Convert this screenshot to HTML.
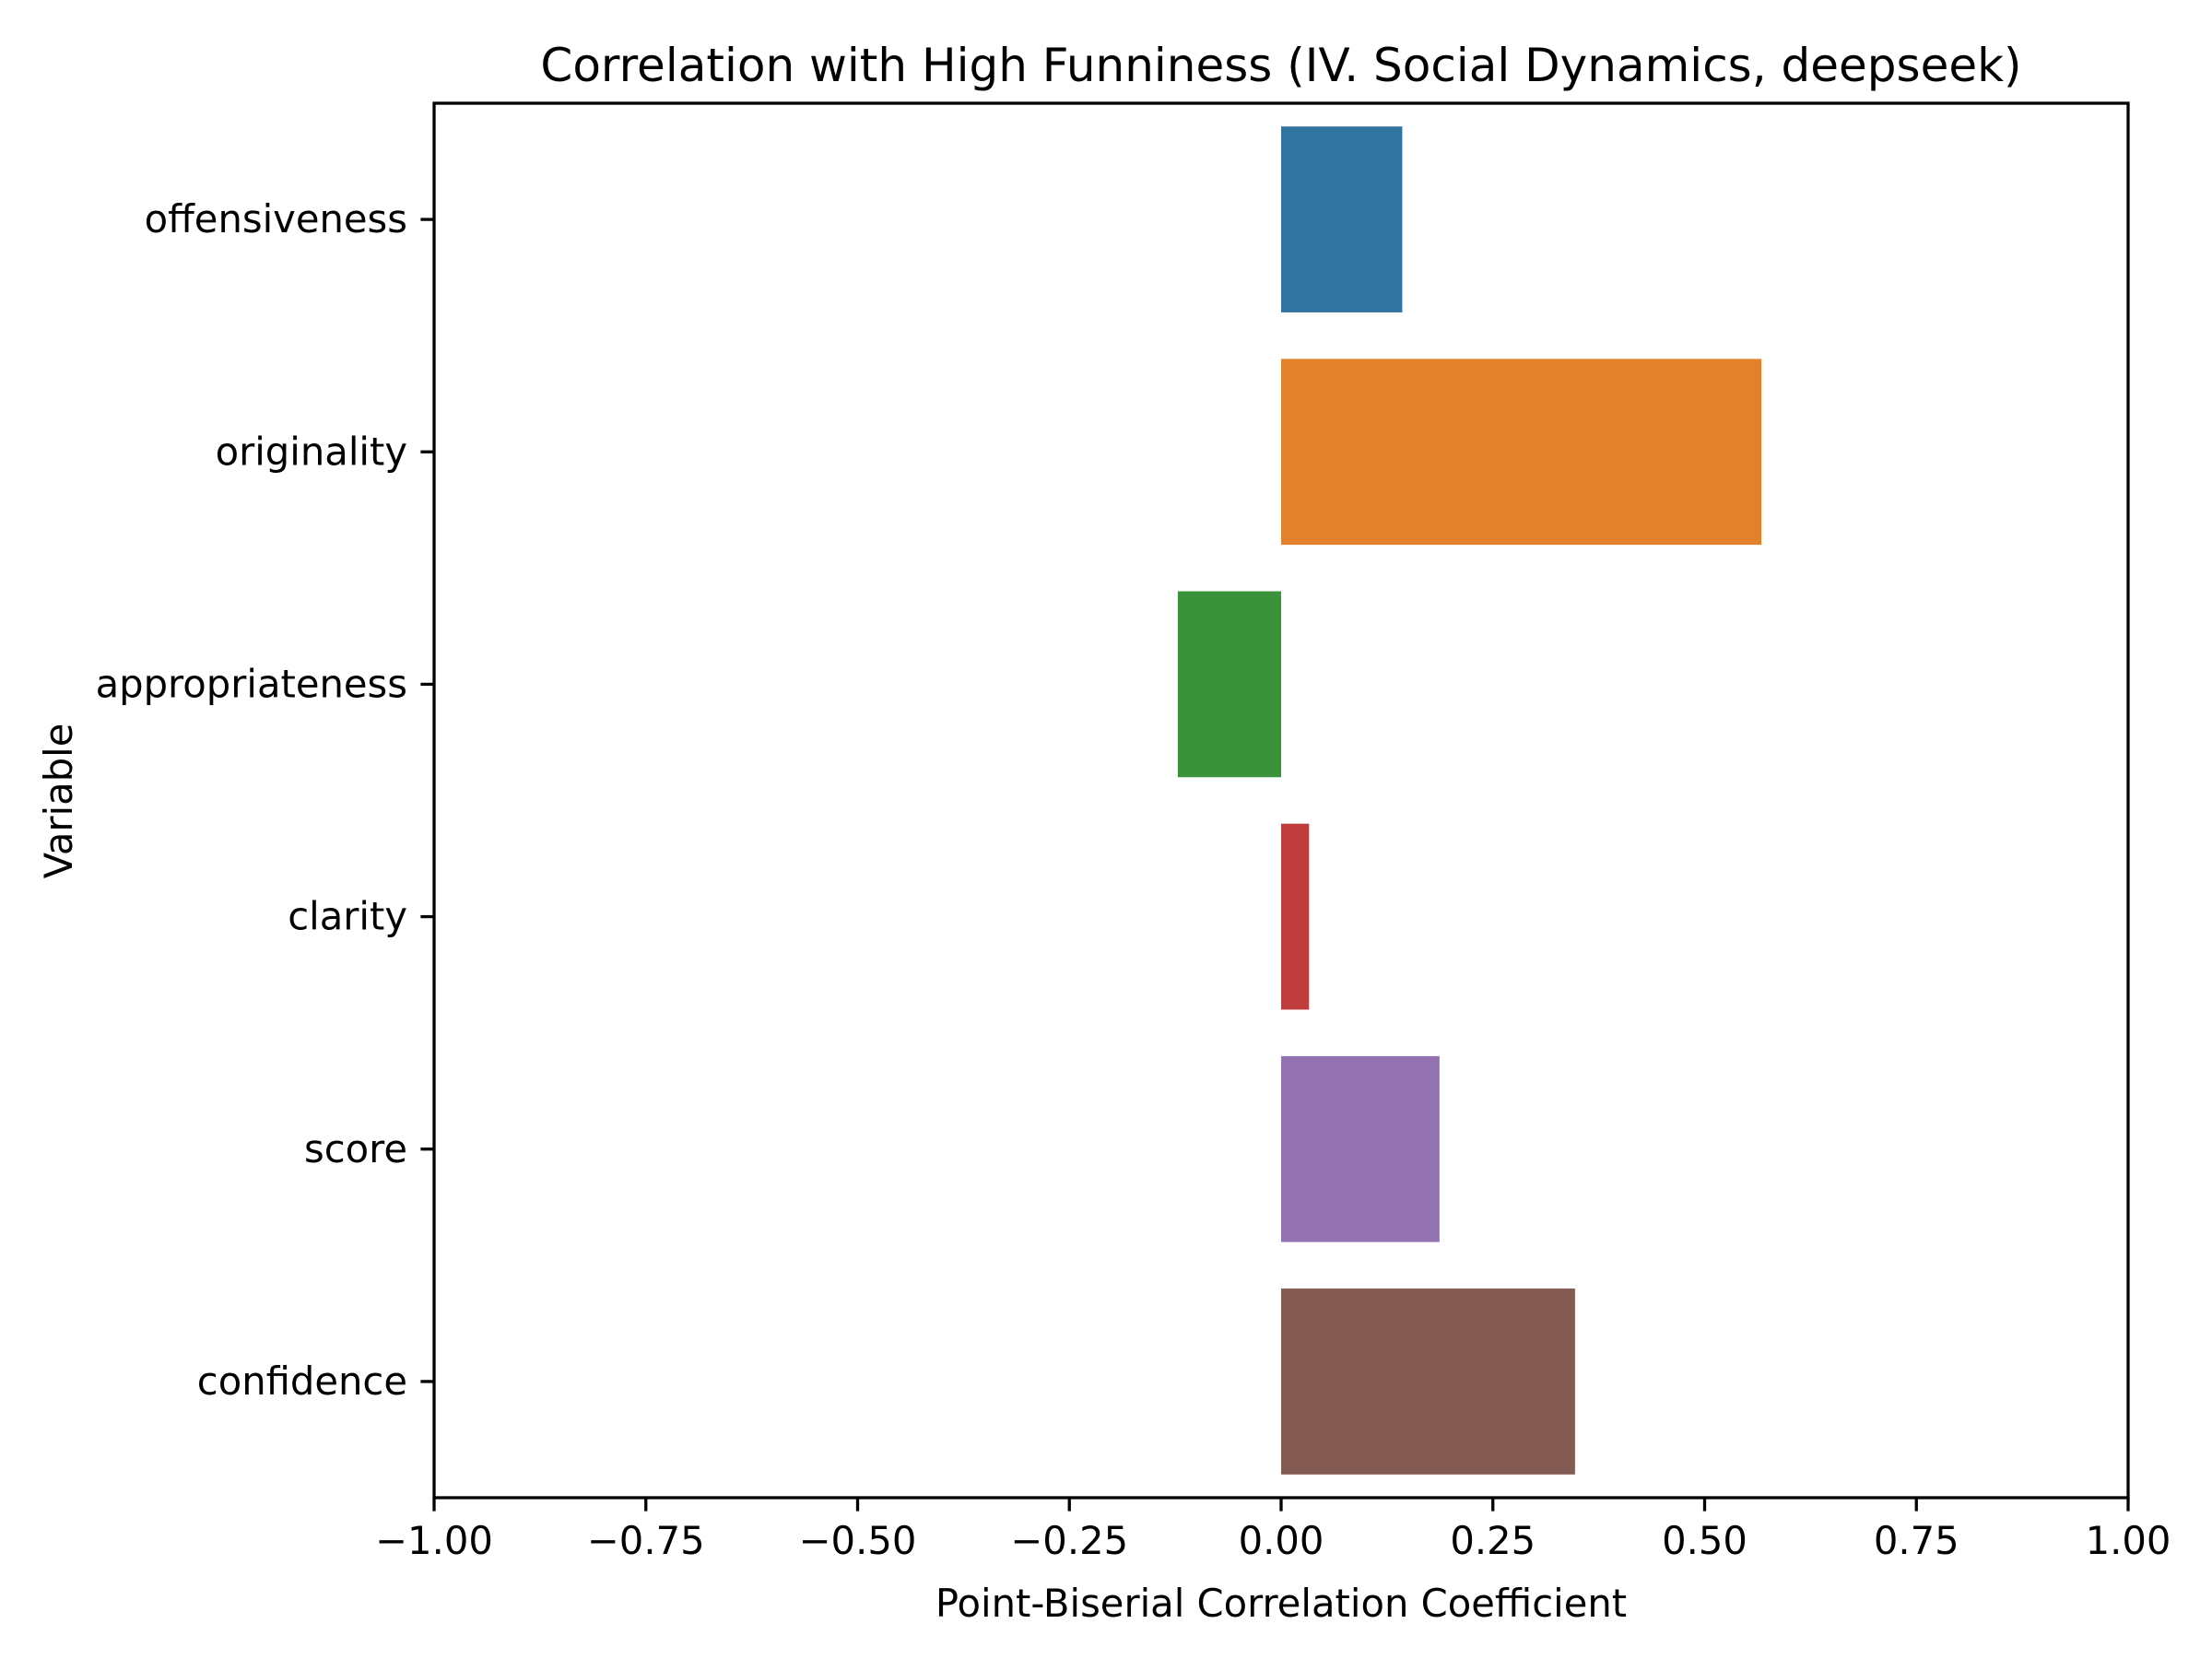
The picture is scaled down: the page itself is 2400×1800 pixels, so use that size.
<!DOCTYPE html>
<html><head><meta charset="utf-8"><style>
html,body{margin:0;padding:0;background:#fff;}
svg{display:block;font-family:"DejaVu Sans","Liberation Sans",sans-serif;}
</style></head><body>
<svg id="chart" width="2400" height="1800" viewBox="0 0 2400 1800" xmlns="http://www.w3.org/2000/svg">
<rect width="2400" height="1800" fill="#fff"/>
<g id="bars"></g>
<g id="axes"></g>
<text x="1390" y="88" font-size="50" text-anchor="middle">Correlation with High Funniness (IV. Social Dynamics, deepseek)</text>
<text x="1390" y="1754" font-size="41.7" text-anchor="middle">Point-Biserial Correlation Coefficient</text>
<text x="0" y="0" font-size="41.7" text-anchor="middle" transform="translate(78,869) rotate(-90)">Variable</text>
</svg>
<script>
const categories = ["offensiveness","originality","appropriateness","clarity","score","confidence"];
const values = [0.143, 0.567, -0.122, 0.033, 0.187, 0.347];
const colors = ["#3274a1","#e1812c","#3a923a","#c03d3e","#9372b2","#845b53"];
const xTicks = [-1,-0.75,-0.5,-0.25,0,0.25,0.5,0.75,1];
const xTickLabels = ["\u22121.00","\u22120.75","\u22120.50","\u22120.25","0.00","0.25","0.50","0.75","1.00"];

const L=471, R=2309, T=112, B=1625;
const NS="http://www.w3.org/2000/svg";
const xS = v => L + (v+1)/2*(R-L);
const band = (B-T)/categories.length;
const yC = i => T + band*(i+0.5);

const barsG=document.getElementById('bars');
const axesG=document.getElementById('axes');
function mk(tag, attrs, parent){const e=document.createElementNS(NS,tag);for(const k in attrs)e.setAttribute(k,attrs[k]);parent.appendChild(e);return e;}

categories.forEach((c,i)=>{
  const x0=xS(0), x1=xS(values[i]);
  const r=mk('rect',{x:Math.min(x0,x1),y:yC(i)-band*0.4,width:Math.abs(x1-x0),height:band*0.8,fill:colors[i]},barsG);
  
  
  const t=mk('line',{x1:L,x2:L-14.6,y1:yC(i),y2:yC(i),stroke:'#000','stroke-width':3.3},axesG);
  
  
  const lb=mk('text',{x:L-29,y:yC(i)+14,'font-size':41.7,'text-anchor':'end'},axesG);
  lb.textContent=c;
  
  
});
xTicks.forEach((v,i)=>{
  const t=mk('line',{x1:xS(v),x2:xS(v),y1:B,y2:B+14.6,stroke:'#000','stroke-width':3.3},axesG);
  
  
  const lb=mk('text',{x:xS(v),y:B+61,'font-size':41.7,'text-anchor':'middle'},axesG);
  lb.textContent=xTickLabels[i];
  
  
});
const fr=mk('rect',{x:L,y:T,width:R-L,height:B-T,fill:'none',stroke:'#000','stroke-width':3.3},axesG);


</script>
</body></html>
